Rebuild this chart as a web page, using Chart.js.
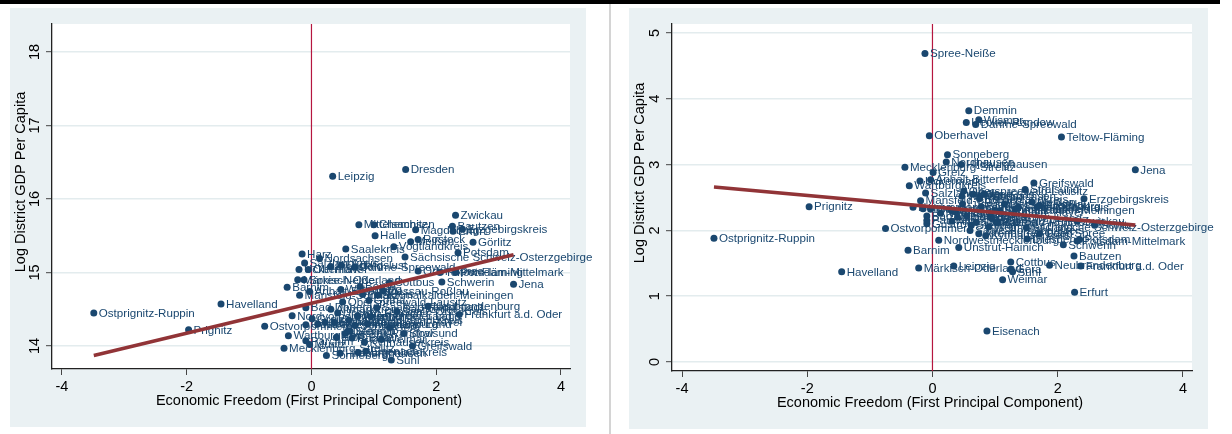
<!DOCTYPE html>
<html>
<head>
<meta charset="utf-8">
<script src="https://cdn.jsdelivr.net/npm/chart.js@4.4.1/dist/chart.umd.min.js"></script>
<style>
  html, body { margin: 0; padding: 0; background: #fff; width: 1232px; height: 434px; overflow: hidden; }
  #topbar { position: absolute; left: 0; top: 0; width: 1220px; height: 4px; background: #000; }
  #sep { position: absolute; left: 609px; top: 4px; width: 2px; height: 430px; background: #d4d4d4; }
  .panel { position: absolute; background: #eaf1f3; overflow: visible; }
  #p1 { left: 10px; top: 8px; width: 576px; height: 419px; }
  #p2 { left: 629px; top: 8px; width: 579px; height: 421px; }
  canvas { position: absolute; left: 0; top: 0; }
</style>
</head>
<body>
<div id="topbar"></div>
<div id="sep"></div>
<div class="panel" id="p1"><canvas id="c1" width="596" height="419"></canvas></div>
<div class="panel" id="p2"><canvas id="c2" width="600" height="421"></canvas></div>
<script>
// East German districts
const districts = [
  "Ostprignitz-Ruppin", "Prignitz", "Havelland", "Jena", "Dresden", "Leipzig", "Zwickau", "Chemnitz",
  "Mittelsachsen", "Magdeburg", "Bautzen", "Erfurt", "Erzgebirgskreis", "Halle", "Görlitz", "Meißen",
  "Rostock", "Vogtlandkreis", "Saalekreis", "Potsdam", "Harz", "Nordsachsen",
  "Sächsische Schweiz-Osterzgebirge", "Salzlandkreis", "Spree-Neiße", "Märkisch-Oderland", "Barnim",
  "Mansfeld-Südharz", "Bad Doberan", "Ostvorpommern", "Wartburgkreis", "Mecklenburg-Strelitz",
  "Nordvorpommern", "Nordwestmecklenburg", "Suhl", "Greifswald", "Stralsund", "Neubrandenburg",
  "Frankfurt a.d. Oder", "Schwerin", "Cottbus", "Potsdam-Mittelmark", "Teltow-Fläming", "Weimar",
  "Eisenach", "Gera", "Unstrut-Hainich", "Oberhavel", "Eichsfeld", "Uckermark", "Demmin", "Wismar",
  "Dahme-Spreewald", "Uecker-Randow", "Sonneberg", "Hildburghausen", "Nordhausen", "Greiz",
  "Anhalt-Bitterfeld", "Burgenlandkreis", "Wittenberg", "Jerichower Land", "Börde",
  "Altmarkkreis Salzwedel", "Stendal", "Dessau-Roßlau", "Kyffhäuserkreis", "Schmalkalden-Meiningen",
  "Gotha", "Sömmerda", "Ilm-Kreis", "Weimarer Land", "Saalfeld-Rudolstadt", "Saale-Holzland-Kreis",
  "Saale-Orla-Kreis", "Altenburger Land", "Elbe-Elster", "Oberspreewald-Lausitz", "Oder-Spree",
  "Brandenburg a.d. Havel", "Güstrow", "Ludwigslust", "Müritz", "Parchim", "Rügen"
];

// Economic freedom index (first principal component)
const freedom = [
  -3.49, -1.97, -1.45, 3.24, 1.51, 0.34, 2.31, 1.00,
  0.76, 1.67, 2.26, 2.27, 2.42, 1.02, 2.59, 1.59,
  1.71, 1.32, 0.55, 2.35, -0.15, 0.13,
  1.50, -0.11, -0.12, -0.22, -0.39,
  -0.19, -0.09, -0.75, -0.37, -0.44,
  -0.31, 0.10, 1.28, 1.62, 1.48, 1.87,
  2.37, 2.09, 1.25, 2.31, 2.06, 1.12,
  0.87, 1.25, 0.42, -0.05, 0.31, -0.20, 0.58, 0.74,
  0.69, 0.54, 0.24, 0.46, 0.22, 0.01,
  -0.03, 0.75, 0.47, 0.95, 0.78,
  0.31, 0.62, 1.15, 0.85, 1.07,
  0.92, 0.70, 0.82, 0.90, 1.05, 0.60,
  1.37, 0.74, 0.40, 0.50, 1.71,
  0.37, -0.09, 0.48, -0.03, -0.09, 0.65
];

// Left panel: log district GDP per capita (levels)
const gdpLevel = [
  14.45, 14.22, 14.57, 14.84, 16.40, 16.31, 15.78, 15.65,
  15.65, 15.58, 15.63, 15.56, 15.59, 15.50, 15.41, 15.42,
  15.45, 15.35, 15.32, 15.27, 15.25, 15.19,
  15.21, 15.13, 14.90, 14.90, 14.80,
  14.69, 14.52, 14.27, 14.14, 13.97,
  14.41, 14.30, 13.81, 14.00, 14.17, 14.54,
  14.43, 14.87, 14.86, 15.00, 15.00, 14.09,
  13.93, 14.25, 14.45, 15.04, 15.08, 15.04, 14.20, 14.41,
  15.07, 14.17, 13.87, 13.90, 14.32, 14.37,
  14.74, 13.91, 14.77, 14.40, 14.81,
  14.50, 14.20, 14.75, 14.05, 14.69,
  14.62, 14.28, 14.70, 14.30, 14.52, 14.35,
  14.47, 14.40, 14.12, 14.60, 15.02,
  14.32, 14.29, 15.10, 14.02, 14.07, 14.11
];

// Right panel values
const gdpRight = [
  1.88, 2.36, 1.37, 2.92, 1.87, 1.46, 2.14, 2.30,
  2.52, 2.36, 1.61, 1.06, 2.48, 2.12, 2.08, 2.43,
  2.38, 2.32, 2.22, 1.86, 2.33, 2.26,
  2.04, 2.57, 4.69, 1.43, 1.70,
  2.45, 2.22, 2.03, 2.68, 2.96,
  2.35, 1.85, 1.37, 2.72, 2.62, 1.47,
  1.46, 1.78, 1.52, 1.84, 3.42, 1.25,
  0.47, 1.41, 1.74, 3.44, 2.30, 2.75, 3.82, 3.68,
  3.61, 3.64, 3.15, 3.00, 3.04, 2.88,
  2.77, 2.48, 2.52, 2.18, 2.36,
  2.14, 2.08, 2.40, 1.92, 2.30,
  2.22, 2.12, 2.55, 2.05, 2.12, 2.00,
  2.35, 1.95, 2.20, 2.60, 1.95,
  2.28, 2.10, 2.40, 2.32, 2.15, 2.55
];

// Fitted regression lines (end points)
const fitX = [-3.49, 3.24];
const fitLeft = [13.87, 15.24];
const fitRight = [2.66, 2.08];

// Axis ticks
const xTicks = [-4, -2, 0, 2, 4];
const yTicksLeft = [14, 15, 16, 17, 18];
const yTicksRight = [0, 1, 2, 3, 4, 5];

const xTitle = "Economic Freedom (First Principal Component)";
const yTitle = "Log District GDP Per Capita";

const FONT = '"Liberation Sans", Arial, sans-serif';
const NAVY = '#1a476f';

// area: plot rectangle inside the canvas; panelW: width of the shaded panel behind it
function makePanel(canvasId, yVals, fitY, yTicks, yMin, yMax, area, yTitleY) {
  const canvas = document.getElementById(canvasId);
  const W = canvas.width, H = canvas.height;

  const points = freedom.map((x, i) => ({ x: x, y: yVals[i] }));
  const fit = fitX.map((x, i) => ({ x: x, y: fitY[i] }));
  const zeroLine = [{ x: 0, y: yMin }, { x: 0, y: yMax }];

  const panelPlugin = {
    id: 'panelDecor',
    beforeDraw(chart) {
      const c = chart.ctx, a = chart.chartArea;
      c.save();
      c.fillStyle = '#ffffff';
      c.fillRect(a.left, a.top, a.right - a.left, a.bottom - a.top);
      c.restore();
    },
    afterDatasetDraw(chart, args) {
      if (args.index !== 1) return;
      const c = chart.ctx;
      const meta = chart.getDatasetMeta(1);
      c.save();
      c.font = '11.6px ' + FONT;
      c.fillStyle = NAVY;
      c.textAlign = 'left';
      c.textBaseline = 'middle';
      meta.data.forEach((el, i) => {
        c.fillText(districts[i], el.x + 5, el.y + 0.5);
      });
      c.restore();
    },
    afterDraw(chart) {
      const c = chart.ctx, a = chart.chartArea;
      const ys = chart.scales.y;
      c.save();
      c.fillStyle = '#000';
      c.font = '14.5px ' + FONT;
      c.textAlign = 'center';
      c.textBaseline = 'middle';
      // rotated y tick labels
      yTicks.forEach(v => {
        const py = ys.getPixelForValue(v);
        c.save();
        c.translate(a.left - 17, py);
        c.rotate(-Math.PI / 2);
        c.fillText(String(v), 0, 0);
        c.restore();
      });
      // axis titles
      c.fillText(xTitle, (a.left + a.right) / 2 - 2, H - 26);
      c.save();
      c.translate(11, yTitleY);
      c.rotate(-Math.PI / 2);
      c.fillText(yTitle, 0, 0);
      c.restore();
      c.restore();
    }
  };

  return new Chart(canvas, {
    type: 'scatter',
    data: {
      datasets: [
        {
          type: 'line', data: fit, borderColor: '#913437', borderWidth: 3.6,
          pointRadius: 0, fill: false, order: 0, borderCapStyle: 'butt'
        },
        {
          data: points, backgroundColor: NAVY, borderWidth: 0,
          pointRadius: 3.5, pointHoverRadius: 3.5, order: 1
        },
        {
          type: 'line', data: zeroLine, borderColor: '#b5163f', borderWidth: 1.2,
          pointRadius: 0, fill: false, order: 2
        }
      ]
    },
    options: {
      responsive: false,
      animation: false,
      devicePixelRatio: 1,
      events: [],
      layout: { padding: { top: area.top, right: W - area.right, left: 0, bottom: 0 } },
      plugins: { legend: { display: false }, tooltip: { enabled: false } },
      scales: {
        x: {
          type: 'linear', min: -4.16, max: 4.145,
          afterBuildTicks: s => { s.ticks = xTicks.map(v => ({ value: v })); },
          afterFit: s => { s.height = H - area.bottom; },
          grid: { display: true, drawOnChartArea: false, drawTicks: true, tickLength: 6, tickColor: '#444', tickWidth: 1 },
          border: { display: true, color: '#222', width: 1.3 },
          ticks: { color: '#000', padding: 3, font: { family: FONT, size: 14.5 }, maxRotation: 0, minRotation: 0 }
        },
        y: {
          type: 'linear', min: yMin, max: yMax,
          afterBuildTicks: s => { s.ticks = yTicks.map(v => ({ value: v })); },
          afterFit: s => { s.width = area.left; },
          grid: { display: true, color: '#e3ecee', lineWidth: 1.4, drawTicks: true, tickLength: 6, tickColor: '#444', tickWidth: 1 },
          border: { display: true, color: '#222', width: 1.3 },
          ticks: { display: false }
        }
      }
    },
    plugins: [panelPlugin]
  });
}

makePanel('c1', gdpLevel, fitLeft, yTicksLeft, 13.687, 18.381,
  { left: 42, top: 16, right: 560, bottom: 361 }, 174);
makePanel('c2', gdpRight, fitRight, yTicksRight, -0.137, 5.137,
  { left: 43, top: 16, right: 563, bottom: 363 }, 165);
</script>
</body>
</html>
